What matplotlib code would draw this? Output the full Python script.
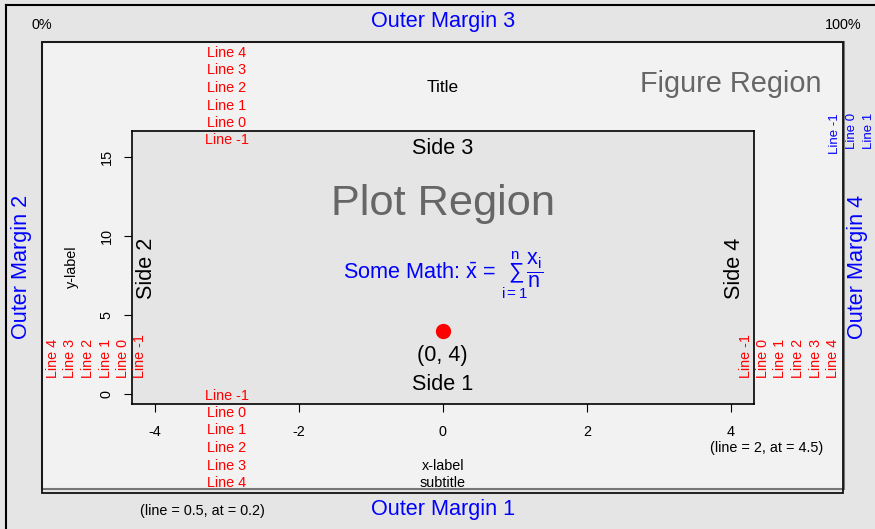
import matplotlib
matplotlib.use('Agg')
import matplotlib.pyplot as plt
from matplotlib.patches import Rectangle
from matplotlib.lines import Line2D
from matplotlib.transforms import blended_transform_factory

plt.rcParams['font.family'] = ['Liberation Sans', 'DejaVu Sans']
plt.rcParams['mathtext.fontset'] = 'custom'
plt.rcParams['mathtext.rm'] = 'Liberation Sans'
plt.rcParams['mathtext.it'] = 'Liberation Sans'
plt.rcParams['mathtext.bf'] = 'Liberation Sans:bold'
plt.rcParams['axes.unicode_minus'] = False

# data
x_range = [-4, 4]
y_range = [0, 16]
x_ticks = [-4, -2, 0, 2, 4]
y_ticks = [0, 5, 10, 15]
point_x = [0]
point_y = [4]
margin_lines = [-1, 0, 1, 2, 3, 4]
outer_lines = [-1, 0, 1]

base = 10.4
red = '#ff0000'
blue = '#0000ff'
grey_txt = '#666666'

W, H = 875, 529
fig = plt.figure(figsize=(W / 100, H / 100), dpi=100)
fig.patch.set_facecolor('#e5e5e5')


def fx(px):
    return px / W


def fy(py):
    return 1 - py / H


# outer box (only top/left edges fall inside the image)
fig.add_artist(Line2D([fx(6), 1], [fy(5), fy(5)], transform=fig.transFigure, color='black', lw=1.5))
fig.add_artist(Line2D([fx(6), fx(6)], [0, fy(5)], transform=fig.transFigure, color='black', lw=1.5))

# figure region
fig.patches.append(Rectangle((fx(42), fy(489)), fx(844) - fx(42), fy(42) - fy(489), transform=fig.transFigure,
                             fc='#f2f2f2', ec='#777777', lw=1.5, zorder=-2))
fig.patches.append(Rectangle((fx(42), fy(493)), fx(843) - fx(42), fy(42) - fy(493), transform=fig.transFigure,
                             fill=False, ec='#111111', lw=1.3, zorder=-1))

# plot region
L, R, T, B = 131.5, 754, 131, 404
ax = fig.add_axes([fx(L), fy(B), fx(R) - fx(L), fy(T) - fy(B)])
ax.set_facecolor('#e5e5e5')
dx = 0.04 * (x_range[1] - x_range[0])
dy = 0.04 * (y_range[1] - y_range[0])
ax.set_xlim(x_range[0] - dx, x_range[1] + dx)
ax.set_ylim(y_range[0] - dy, y_range[1] + dy)
ax.set_xticks(x_ticks)
ax.set_yticks(y_ticks)
ax.set_yticklabels([str(v) for v in y_ticks], rotation=90, va='center')
ax.tick_params(direction='out', length=5.5, width=0.8, labelsize=base, color='black')
ax.tick_params(axis='x', pad=9.5)
ax.tick_params(axis='y', pad=7.5)
for s in ax.spines.values():
    s.set_color('black')
    s.set_linewidth(1.2)

ax.plot(point_x, point_y, 'o', color=red, ms=10, zorder=5)
ax.annotate('(%d, %d)' % (point_x[0], point_y[0]), xy=(point_x[0], point_y[0]), xytext=(0, -18),
            textcoords='offset points', ha='center', va='center', fontsize=base * 1.5)
ax.text(0, 12, 'Plot Region', ha='center', va='center', fontsize=base * 3, color=grey_txt)
ax.text(0, 7.5, r'Some Math: $\bar{x}$ = $\sum_{i=1}^{n}\dfrac{x_i}{n}$', ha='center', va='center',
        fontsize=base * 1.5, color=blue)

tx = blended_transform_factory(ax.transData, fig.transFigure)
ty = blended_transform_factory(fig.transFigure, ax.transData)
LH = 17.5

for n in margin_lines:
    lab = 'Line %d' % n
    ax.text(-3, fy(413 + n * LH), lab, transform=tx, ha='center', va='center', color=red,
            fontsize=base, clip_on=False)
    ax.text(-3, fy(123 - n * LH), lab, transform=tx, ha='center', va='center', color=red,
            fontsize=base, clip_on=False)
    ax.text(fx(123 - n * LH), 1, lab, transform=ty, ha='center', va='bottom', rotation=90,
            color=red, fontsize=base, clip_on=False)
    ax.text(fx(763 + n * LH), 1, lab, transform=ty, ha='center', va='bottom', rotation=90,
            color=red, fontsize=base, clip_on=False)

for n in outer_lines:
    fig.text(fx(852 + n * 16.5), fy(113), 'Line %d' % n, ha='center', va='top', rotation=90,
             color=blue, fontsize=base * 0.92)

# sides inside plot
ax.text(0, fy(385), 'Side 1', transform=tx, ha='center', va='center', fontsize=base * 1.5)
ax.text(0, fy(148), 'Side 3', transform=tx, ha='center', va='center', fontsize=base * 1.5)
fig.text(fx(146), fy(268), 'Side 2', ha='center', va='center', rotation=90, fontsize=base * 1.5)
fig.text(fx(735), fy(268), 'Side 4', ha='center', va='center', rotation=90, fontsize=base * 1.5)

# figure margin texts
ax.text(0, fy(88), 'Title', transform=tx, ha='center', va='center', fontsize=base * 1.2)
ax.text(0, fy(466), 'x-label', transform=tx, ha='center', va='center', fontsize=base)
ax.text(0, fy(483), 'subtitle', transform=tx, ha='center', va='center', fontsize=base)
fig.text(fx(72), fy(267), 'y-label', ha='center', va='center', rotation=90, fontsize=base)
ax.text(4.5, fy(448), '(line = 2, at = 4.5)', transform=tx, ha='center', va='center', fontsize=base)
fig.text(fx(822), fy(84), 'Figure Region', ha='right', va='center', fontsize=base * 2, color=grey_txt)

# outer margin texts
fig.text(fx(42), fy(25), '0%', ha='center', va='center', fontsize=base)
fig.text(fx(843), fy(25), '100%', ha='center', va='center', fontsize=base)
fig.text(fx(443), fy(22), 'Outer Margin 3', ha='center', va='center', fontsize=base * 1.5, color=blue)
fig.text(fx(443), fy(509), 'Outer Margin 1', ha='center', va='center', fontsize=base * 1.5, color=blue)
fig.text(fx(22), fy(267), 'Outer Margin 2', ha='center', va='center', rotation=90, fontsize=base * 1.5, color=blue)
fig.text(fx(858), fy(267), 'Outer Margin 4', ha='center', va='center', rotation=90, fontsize=base * 1.5, color=blue)
fig.text(fx(42 + 0.2 * 801), fy(511), '(line = 0.5, at = 0.2)', ha='center', va='center', fontsize=base)

fig.savefig('out.png', dpi=100, facecolor=fig.get_facecolor())
